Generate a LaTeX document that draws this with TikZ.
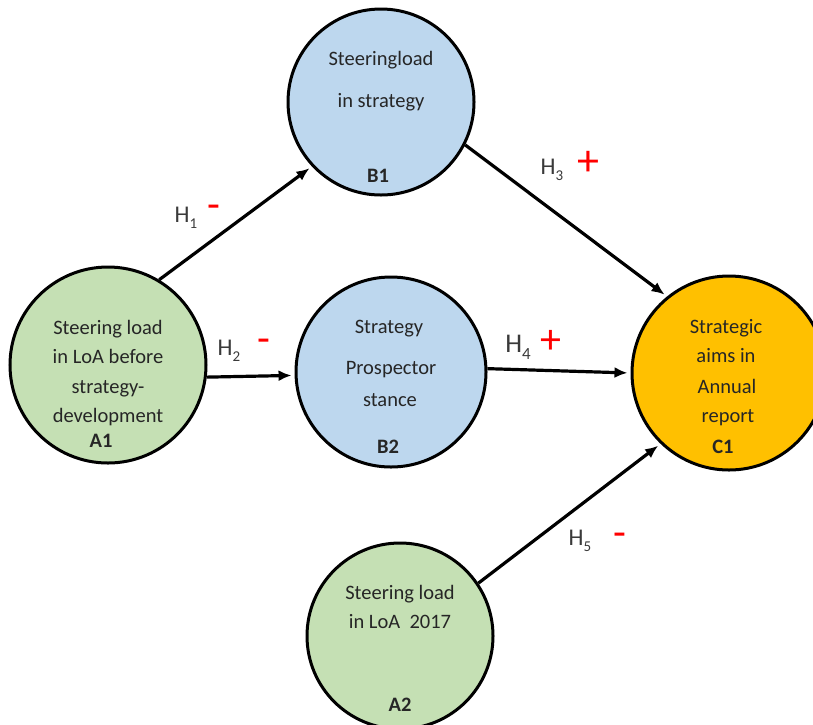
\documentclass[tikz,border=0pt]{standalone}
\usepackage{fontspec}
\setmainfont{Carlito}
\usetikzlibrary{arrows.meta}
\definecolor{fillblue}{HTML}{BDD7EE}
\definecolor{fillgreen}{HTML}{C5E0B4}
\definecolor{fillorange}{HTML}{FFC000}
\definecolor{ink}{HTML}{262626}
\definecolor{hypink}{HTML}{3A3A3A}
\definecolor{signred}{HTML}{FF0000}
% hypothesis label: H with a lowered index
\newcommand\hyplabel[2]{H\raisebox{-0.28em}{\fontsize{#2}{#2}\selectfont #1}}

\begin{document}
\begin{tikzpicture}[x=1pt,y=-1pt,
  construct/.style={circle, draw=black, line width=3pt, inner sep=0pt},
  line/.style={font=\fontsize{20.5}{24}\selectfont, text=ink, anchor=base, inner sep=0pt},
  tag/.style={font=\fontsize{20.5}{24}\selectfont\bfseries, text=ink, anchor=base, inner sep=0pt},
  hyp/.style={font=\fontsize{24}{26}\selectfont, text=hypink, anchor=base, inner sep=0pt},
  sign/.style={text=signred, anchor=center, inner sep=0pt},
  link/.style={draw=black, line width=3.2pt, -{Latex[length=13pt,width=11pt]}, shorten >=3pt}
]
\clip (0,0) rectangle (813,724);

% constructs
\node[construct, fill=fillblue,   minimum size=186pt] (B1) at (381,102) {};
\node[construct, fill=fillgreen,  minimum size=196pt] (A1) at (108,365) {};
\node[construct, fill=fillblue,   minimum size=190pt] (B2) at (391,372) {};
\node[construct, fill=fillorange, minimum size=194pt] (C1) at (729,373) {};
\node[construct, fill=fillgreen,  minimum size=186pt] (A2) at (400,636) {};

% texts inside the constructs
\node[line] (b1a) at (381,65)  {Steeringload};
\node[line] (b1b) at (381,107) {in strategy};
\node[tag]  (b1t) at (378,182) {B1};

\node[line] (a1a) at (108,334) {Steering load};
\node[line] (a1b) at (108,363) {in LoA before};
\node[line] (a1c) at (108,393) {strategy-};
\node[line] (a1d) at (108,422) {development};
\node[tag]  (a1t) at (101,447) {A1};

\node[line] (b2a) at (389,333) {Strategy};
\node[line] (b2b) at (391,374) {Prospector};
\node[line] (b2c) at (390,406) {stance};
\node[tag]  (b2t) at (388,453) {B2};

\node[line] (c1a) at (726,333) {Strategic};
\node[line] (c1b) at (726,362) {aims in};
\node[line] (c1c) at (727,393) {Annual};
\node[line] (c1d) at (728,422) {report};
\node[tag]  (c1t) at (723,453) {C1};

\node[line] (a2a) at (400,599) {Steering load};
\node[line] (a2b) at (400,628) {in LoA\ \ 2017};
\node[tag]  (a2t) at (400,711) {A2};

% hypothesised paths
\draw[link] (A1.59)  -- (B1.223);
\draw[link] (B1.333) -- (C1.129);
\draw[link] (A1.353.5) -- (B2.182.4);
\draw[link] (B2.2)   -- (C1.180);
\draw[link] (A2.34)  -- (C1.226);

% hypothesis labels and expected signs
\node[hyp] (h1) at (186,222) {\hyplabel{1}{15}};
\node[sign, font=\fontsize{42}{42}\selectfont] (s1) at (214,212) {-};
\node[hyp] (h2) at (229,355) {\hyplabel{2}{15}};
\node[sign, font=\fontsize{42}{42}\selectfont] (s2) at (264,346) {-};
\node[hyp] (h3) at (552,174) {\hyplabel{3}{15}};
\node[sign, font=\fontsize{44}{44}\selectfont] (s3) at (588,163) {+};
\node[hyp, font=\fontsize{27}{28}\selectfont] (h4) at (518,352) {\hyplabel{4}{17}};
\node[sign, font=\fontsize{42}{42}\selectfont] (s4) at (551,342) {+};
\node[hyp] (h5) at (580,545) {\hyplabel{5}{15}};
\node[sign, font=\fontsize{42}{42}\selectfont] (s5) at (620,540) {-};
\end{tikzpicture}
\end{document}
